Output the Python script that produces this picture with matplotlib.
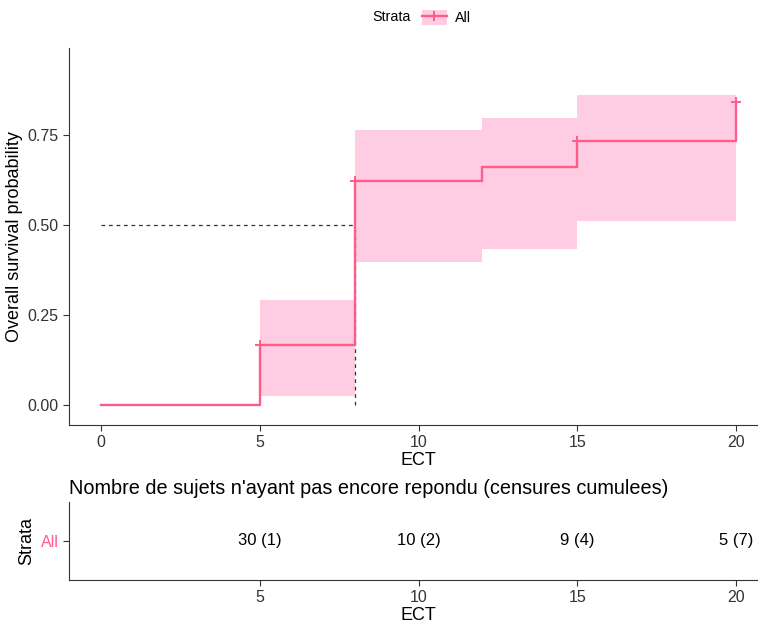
import matplotlib
matplotlib.use("Agg")
import matplotlib.pyplot as plt
from matplotlib.patches import Patch
from matplotlib.lines import Line2D
from matplotlib.legend_handler import HandlerTuple

plt.rcParams['font.family'] = ['Liberation Sans', 'DejaVu Sans']

# courbe (incidence cumulee)
times = [0, 5, 8, 12, 15, 20]
surv = [0.0, 0.167, 0.62, 0.66, 0.733, 0.84]
band_t = [5, 8, 12, 15, 20]
lower = [0.024, 0.396, 0.432, 0.51]
upper = [0.292, 0.763, 0.797, 0.861]
cens_t = [5, 8, 15, 20]
cens_y = [0.167, 0.62, 0.733, 0.84]
median_t = 8

# tableau des sujets a risque
risk_t = [5, 10, 15, 20]
n_risk = [30, 10, 9, 5]
n_cens = [1, 2, 4, 7]

col = '#FF5C8A'
band_col = '#FFCDE3'

fig = plt.figure(figsize=(7.58, 6.23), dpi=100)

ax = fig.add_axes([69/758, 1-425/623, 699/758, 377/623])
ax.fill_between(band_t, lower + [lower[-1]], upper + [upper[-1]], step='post',
                color=band_col, lw=0)
ax.plot([0, median_t], [0.5, 0.5], ls=(0, (3, 3)), color='#333333', lw=0.9)
ax.plot([median_t, median_t], [0, 0.5], ls=(0, (3, 3)), color='#333333', lw=0.9)
ax.step(times, surv, where='post', color=col, lw=1.7)
ax.plot(cens_t, cens_y, ls='none', marker='+', ms=6.5, mew=1.4, color=col)
ax.set_xlim(-1, 21)
ax.set_ylim(-0.055, 0.99)
ax.set_xticks([0, 5, 10, 15, 20])
ax.set_yticks([0, 0.25, 0.5, 0.75])
ax.set_yticklabels(['0.00', '0.25', '0.50', '0.75'])
ax.set_xlabel('ECT', fontsize=13, labelpad=1)
ax.set_ylabel('Overall survival probability', fontsize=13, labelpad=3)
for s in ['top', 'right']:
    ax.spines[s].set_visible(False)
for s in ['left', 'bottom']:
    ax.spines[s].set_color('#333333')
ax.tick_params(labelsize=11.5, color='#333333', labelcolor='#333333', length=4)

# legende
fig.text(0.542, 0.972, 'Strata', fontsize=10.3, ha='right', va='center')
h = (Patch(facecolor=band_col, edgecolor='none'),
     Line2D([], [], color=col, lw=1.7, marker='+', ms=7, mew=1.4))
fig.legend([h], ['All'], handler_map={tuple: HandlerTuple(ndivide=1)},
           loc='center left', bbox_to_anchor=(0.543, 0.972), frameon=False,
           fontsize=10.3, handlelength=1.8, handleheight=1.3,
           handletextpad=0.5, borderpad=0.2)

# tableau
tx = fig.add_axes([69/758, 1-580/623, 699/758, 78/623])
for t, n, c in zip(risk_t, n_risk, n_cens):
    tx.text(t, 0, f'{n} ({c})', ha='center', va='center', fontsize=12)
tx.set_xlim(-1, 21)
tx.set_ylim(-1, 1)
tx.set_xticks(risk_t)
tx.set_yticks([0])
tx.set_yticklabels(['All'])
tx.set_xlabel('ECT', fontsize=13, labelpad=1)
tx.set_ylabel('Strata', fontsize=13, labelpad=4)
tx.set_title("Nombre de sujets n'ayant pas encore repondu (censures cumulees)",
             fontsize=14.3, loc='left', pad=6)
for s in ['top', 'right']:
    tx.spines[s].set_visible(False)
for s in ['left', 'bottom']:
    tx.spines[s].set_color('#333333')
tx.tick_params(labelsize=11.5, color='#333333', length=4)
tx.tick_params(axis='x', labelcolor='#333333')
tx.get_yticklabels()[0].set_color(col)

fig.savefig('out.png', dpi=100)
